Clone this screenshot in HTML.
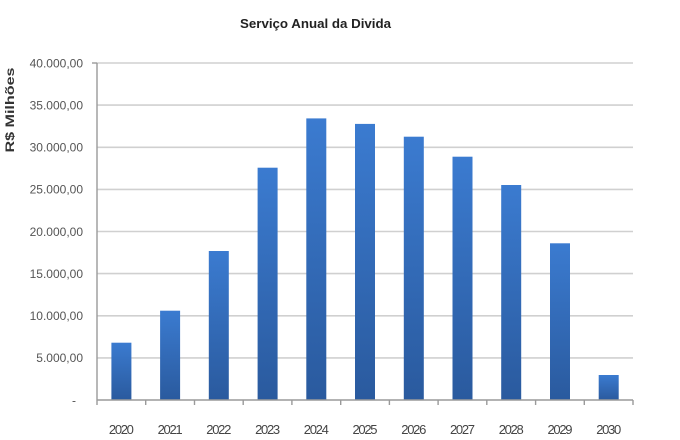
<!DOCTYPE html>
<html><head><meta charset="utf-8"><style>
html,body{margin:0;padding:0;background:#fff;}
svg{display:block;}
</style></head><body>
<svg width="680" height="440" viewBox="0 0 680 440" xmlns="http://www.w3.org/2000/svg" font-family="Liberation Sans, sans-serif">
<defs>
<linearGradient id="g" x1="0" y1="0" x2="0" y2="1">
<stop offset="0" stop-color="#3b7bd0"/>
<stop offset="1" stop-color="#2a5a9e"/>
</linearGradient>
</defs>
<rect width="680" height="440" fill="#fff"/>
<text x="315.5" y="28" text-anchor="middle" font-size="12.5" font-weight="bold" fill="#222" textLength="151" lengthAdjust="spacingAndGlyphs">Serviço Anual da Divida</text>
<g stroke="#d0d0d0" stroke-width="1.6">
<line x1="97" y1="63" x2="633" y2="63"/>
<line x1="97" y1="105.1" x2="633" y2="105.1"/>
<line x1="97" y1="147.3" x2="633" y2="147.3"/>
<line x1="97" y1="189.4" x2="633" y2="189.4"/>
<line x1="97" y1="231.5" x2="633" y2="231.5"/>
<line x1="97" y1="273.6" x2="633" y2="273.6"/>
<line x1="97" y1="315.8" x2="633" y2="315.8"/>
<line x1="97" y1="357.9" x2="633" y2="357.9"/>
</g>
<g fill="url(#g)">
<rect x="111.4" y="342.7" width="20" height="57.3"/>
<rect x="160.1" y="310.7" width="20" height="89.3"/>
<rect x="208.8" y="251" width="20" height="149"/>
<rect x="257.6" y="167.7" width="20" height="232.3"/>
<rect x="306.3" y="118.4" width="20" height="281.6"/>
<rect x="355.0" y="123.9" width="20" height="276.1"/>
<rect x="403.8" y="136.7" width="20" height="263.3"/>
<rect x="452.5" y="156.7" width="20" height="243.3"/>
<rect x="501.2" y="185" width="20" height="215"/>
<rect x="550.0" y="243.3" width="20" height="156.7"/>
<rect x="598.7" y="375" width="20" height="25"/>
</g>
<g stroke="#9a9a9a" stroke-width="1.4">
<line x1="97" y1="63" x2="97" y2="400"/>
<line x1="97" y1="400" x2="633" y2="400"/>
<line x1="97" y1="400" x2="97" y2="405"/>
<line x1="145.7" y1="400" x2="145.7" y2="405"/>
<line x1="194.5" y1="400" x2="194.5" y2="405"/>
<line x1="243.2" y1="400" x2="243.2" y2="405"/>
<line x1="291.9" y1="400" x2="291.9" y2="405"/>
<line x1="340.7" y1="400" x2="340.7" y2="405"/>
<line x1="389.4" y1="400" x2="389.4" y2="405"/>
<line x1="438.1" y1="400" x2="438.1" y2="405"/>
<line x1="486.8" y1="400" x2="486.8" y2="405"/>
<line x1="535.6" y1="400" x2="535.6" y2="405"/>
<line x1="584.3" y1="400" x2="584.3" y2="405"/>
<line x1="633" y1="400" x2="633" y2="405"/>
<line x1="92" y1="63" x2="97" y2="63"/>
</g>
<g font-size="12" fill="#555" text-anchor="end">
<text x="83" y="67.3">40.000,00</text>
<text x="83" y="109.4">35.000,00</text>
<text x="83" y="151.6">30.000,00</text>
<text x="83" y="193.7">25.000,00</text>
<text x="83" y="235.8">20.000,00</text>
<text x="83" y="277.9">15.000,00</text>
<text x="83" y="320.1">10.000,00</text>
<text x="83" y="362.2">5.000,00</text>
<text x="76" y="404.3">-</text>
</g>
<text transform="translate(14,110) rotate(-90)" text-anchor="middle" font-size="11.5" font-weight="bold" fill="#333" textLength="85" lengthAdjust="spacingAndGlyphs">R$ Milhões</text>
<g font-size="13" fill="#444" text-anchor="middle" lengthAdjust="spacingAndGlyphs">
<text x="121.4" y="434" textLength="25">2020</text>
<text x="170.1" y="434" textLength="25">2021</text>
<text x="218.8" y="434" textLength="25">2022</text>
<text x="267.6" y="434" textLength="25">2023</text>
<text x="316.3" y="434" textLength="25">2024</text>
<text x="365.0" y="434" textLength="25">2025</text>
<text x="413.8" y="434" textLength="25">2026</text>
<text x="462.5" y="434" textLength="25">2027</text>
<text x="511.2" y="434" textLength="25">2028</text>
<text x="560.0" y="434" textLength="25">2029</text>
<text x="608.7" y="434" textLength="25">2030</text>
</g>
</svg>
</body></html>
